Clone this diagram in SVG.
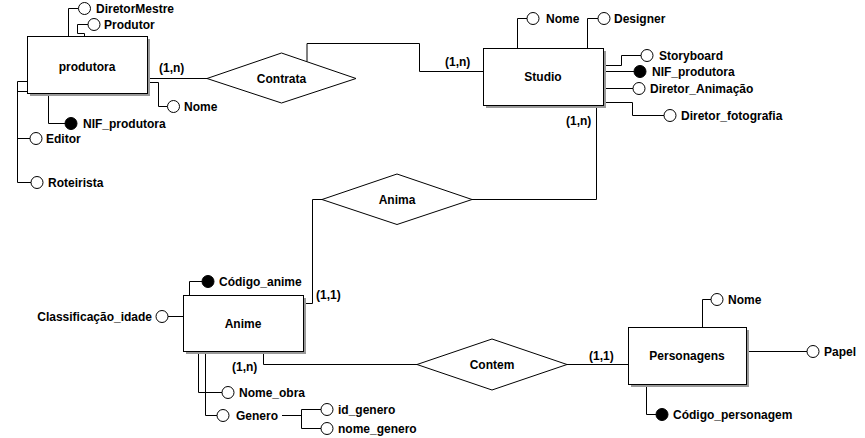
<svg xmlns="http://www.w3.org/2000/svg" width="865" height="438" viewBox="0 0 865 438">
<style>
text{font-family:"Liberation Sans",Arial,sans-serif;font-size:12px;font-weight:bold;fill:#000}
.c{text-anchor:middle}
.ent{fill:#fff;stroke:#000;stroke-width:1}
.sh{fill:#999}
.rel{fill:#fff;stroke:#000;stroke-width:1}
.at{fill:#fff;stroke:#000;stroke-width:1}
.key{fill:#000;stroke:#000;stroke-width:1}
.ln{fill:none;stroke:#000;stroke-width:1}
</style>
<rect width="865" height="438" fill="#fff"/>
<g id="connectors" class="ln">
<path d="M68.5,36 V8.5 H78.5"/>
<path d="M84.5,36 V33.5 H77.5 V24.5 H88"/>
<path d="M147,82.5 H158.5 V106.5 H167.5"/>
<path d="M48.5,93 V123.5 H65"/>
<path d="M27,81.5 H17.5 V182.5 H31"/>
<path d="M27,91.5 H17.5"/>
<path d="M17.5,138.5 H30"/>
<path d="M147,78.5 H207"/>
<path d="M307,61.7 V43.5 H419.5 V71.5 H483"/>
<path d="M517.5,48 V18.5 H527"/>
<path d="M587.5,48 V18.5 H598"/>
<path d="M603,65.5 H621.5 V55.5 H641"/>
<path d="M603,71.5 H634"/>
<path d="M603,88.5 H633"/>
<path d="M603,102.5 H632.5 V115.5 H664"/>
<path d="M596.5,105 V199.5 H472"/>
<path d="M322,199.5 H312.5 V303.5 H303"/>
<path d="M189.5,295 V281.5 H202"/>
<path d="M183,316.5 H168"/>
<path d="M198.5,351 V392.5 H222"/>
<path d="M205.5,351 V415.5 H217"/>
<path d="M282,415.5 H301.5"/>
<path d="M321,409.5 H301.5 V428.5 H321"/>
<path d="M263.5,351 V364.5 H417"/>
<path d="M567,364.5 H628"/>
<path d="M702.5,327 V299.5 H711"/>
<path d="M746,351.5 H807"/>
<path d="M646.5,384 V414.5 H656"/>
</g>
<g id="produtora">
<rect class="sh" x="30" y="39" width="120" height="57"/>
<rect class="ent" x="27.5" y="36.5" width="120" height="57"/>
<text class="c" x="87" y="71">produtora</text>
</g>
<g id="studio">
<rect class="sh" x="486" y="51" width="120" height="57"/>
<rect class="ent" x="483.5" y="48.5" width="120" height="57"/>
<text class="c" x="543" y="81">Studio</text>
</g>
<g id="anime">
<rect class="sh" x="186" y="298" width="120" height="56"/>
<rect class="ent" x="183.5" y="295.5" width="120" height="56"/>
<text class="c" x="243" y="328">Anime</text>
</g>
<g id="personagens">
<rect class="sh" x="631" y="330" width="118" height="57"/>
<rect class="ent" x="628.5" y="327.5" width="118" height="57"/>
<text class="c" x="687" y="360">Personagens</text>
</g>
<g id="contrata">
<polygon class="rel" points="207,78.5 281.5,53 356,78.5 281.5,103"/>
<text class="c" x="281.5" y="83">Contrata</text>
</g>
<g id="anima">
<polygon class="rel" points="322,199.5 397,174 472,199.5 397,224.5"/>
<text class="c" x="397" y="204">Anima</text>
</g>
<g id="contem">
<polygon class="rel" points="417,364.5 492,339 567,364.5 492,390"/>
<text class="c" x="492" y="369">Contem</text>
</g>
<g id="card">
<text x="159" y="72">(1,n)</text>
<text x="445" y="66">(1,n)</text>
<text x="566" y="125">(1,n)</text>
<text x="316" y="299">(1,1)</text>
<text x="232" y="371">(1,n)</text>
<text x="589" y="360">(1,1)</text>
</g>
<g id="attr-diretormestre"><circle class="at" cx="84.5" cy="8.5" r="6"/><text x="96" y="12.5">DiretorMestre</text></g>
<g id="attr-produtor"><circle class="at" cx="94" cy="24.5" r="6"/><text x="104" y="28.5">Produtor</text></g>
<g id="attr-nome-produtora"><circle class="at" cx="173.5" cy="106.5" r="6"/><text x="184" y="110.5">Nome</text></g>
<g id="attr-nif-produtora"><circle class="key" cx="71" cy="123.5" r="6"/><text x="83" y="127.5">NIF_produtora</text></g>
<g id="attr-editor"><circle class="at" cx="36" cy="138.5" r="6"/><text x="46" y="142.5">Editor</text></g>
<g id="attr-roteirista"><circle class="at" cx="37" cy="182.5" r="6"/><text x="48" y="186.5">Roteirista</text></g>
<g id="attr-nome-studio"><circle class="at" cx="533" cy="18.5" r="6"/><text x="546" y="22.5">Nome</text></g>
<g id="attr-designer"><circle class="at" cx="604" cy="18.5" r="6"/><text x="614" y="22.5">Designer</text></g>
<g id="attr-storyboard"><circle class="at" cx="647" cy="55.5" r="6"/><text x="659" y="59.5">Storyboard</text></g>
<g id="attr-nif-studio"><circle class="key" cx="640" cy="71.5" r="6"/><text x="652" y="75.5">NIF_produtora</text></g>
<g id="attr-diretor-animacao"><circle class="at" cx="639" cy="88.5" r="6"/><text x="650" y="92.5">Diretor_Animação</text></g>
<g id="attr-diretor-fotografia"><circle class="at" cx="670" cy="115.5" r="6"/><text x="681" y="119.5">Diretor_fotografia</text></g>
<g id="attr-codigo-anime"><circle class="key" cx="208" cy="281.5" r="6"/><text x="219" y="285.5">Código_anime</text></g>
<g id="attr-classificacao"><circle class="at" cx="162" cy="316.5" r="6"/><text x="152" y="320.5" text-anchor="end">Classificação_idade</text></g>
<g id="attr-nome-obra"><circle class="at" cx="228" cy="392.5" r="6"/><text x="239" y="396.5">Nome_obra</text></g>
<g id="attr-genero"><circle class="at" cx="223" cy="415.5" r="6"/><text x="236" y="419.5">Genero</text></g>
<g id="attr-id-genero"><circle class="at" cx="327" cy="409.5" r="6"/><text x="338" y="413.5">id_genero</text></g>
<g id="attr-nome-genero"><circle class="at" cx="327" cy="428.5" r="6"/><text x="338" y="432.5">nome_genero</text></g>
<g id="attr-nome-personagem"><circle class="at" cx="717" cy="299.5" r="6"/><text x="728" y="303.5">Nome</text></g>
<g id="attr-papel"><circle class="at" cx="813" cy="351.5" r="6"/><text x="824" y="355.5">Papel</text></g>
<g id="attr-codigo-personagem"><circle class="key" cx="662" cy="414.5" r="6"/><text x="673" y="418.5">Código_personagem</text></g>
</svg>
